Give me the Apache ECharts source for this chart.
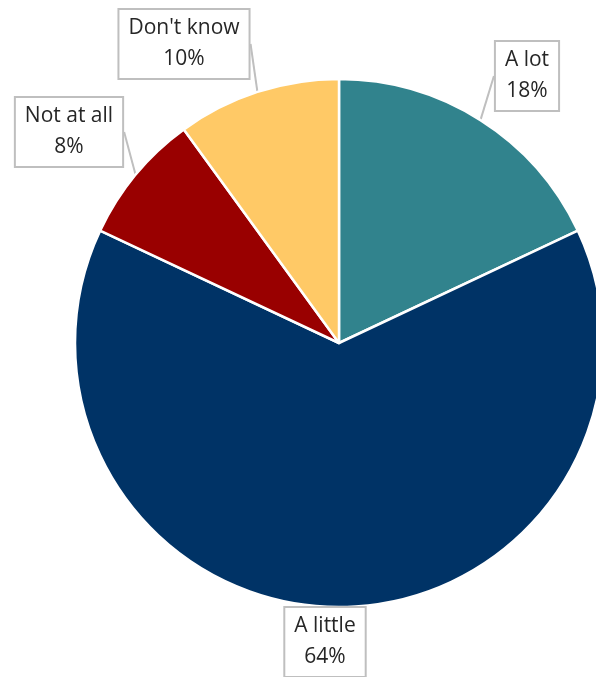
<!DOCTYPE html>
<html>
<head>
<meta charset="utf-8">
<script src="https://cdn.jsdelivr.net/npm/echarts@6/dist/echarts.min.js"></script>
<style>
  html, body { margin: 0; padding: 0; background: #fff; }
  #chart { width: 596px; height: 677px; }
</style>
</head>
<body>
<div id="chart"></div>
<script>
// answers and their shares, clockwise from 12 o'clock
var categories = ["A lot", "A little", "Not at all", "Don't know"];
var shares = [18, 64, 8, 10];
var colors = ["#31838d", "#003366", "#990000", "#ffc966"];
// where each callout box sits (centre)
var labelSpots = [[527, 76], [325, 642], [69, 132], [184, 44]];

var myChart = echarts.init(document.getElementById("chart"));

var option = {
    animation: false,
    series: [
        {
            type: "pie",
            center: [339, 343],
            radius: 264,
            startAngle: 90,
            clockwise: true,
            data: categories.map(function (c, i) {
                return { name: c, value: shares[i], itemStyle: { color: colors[i] } };
            }),
            itemStyle: {
                borderColor: "#fff",
                borderWidth: 2.5
            },
            label: {
                show: true,
                position: "outside",
                formatter: "{b}\n{c}%",
                fontFamily: "Open Sans",
                fontSize: 21,
                lineHeight: 31,
                color: "#262626",
                backgroundColor: "#fff",
                borderColor: "#bfbfbf",
                borderWidth: 2,
                padding: [3, 9, 3, 9],
                align: "center"
            },
            labelLine: {
                show: true,
                length: 8,
                length2: 0,
                lineStyle: { color: "#bfbfbf", width: 2 }
            },
            labelLayout: function (p) {
                var s = labelSpots[p.dataIndex];
                return { x: s[0], y: s[1], align: "center", verticalAlign: "middle" };
            },
            emphasis: { disabled: true }
        }
    ]
};

myChart.setOption(option);
window.addEventListener("resize", function () {
    myChart.resize();
});
</script>
</body>
</html>
